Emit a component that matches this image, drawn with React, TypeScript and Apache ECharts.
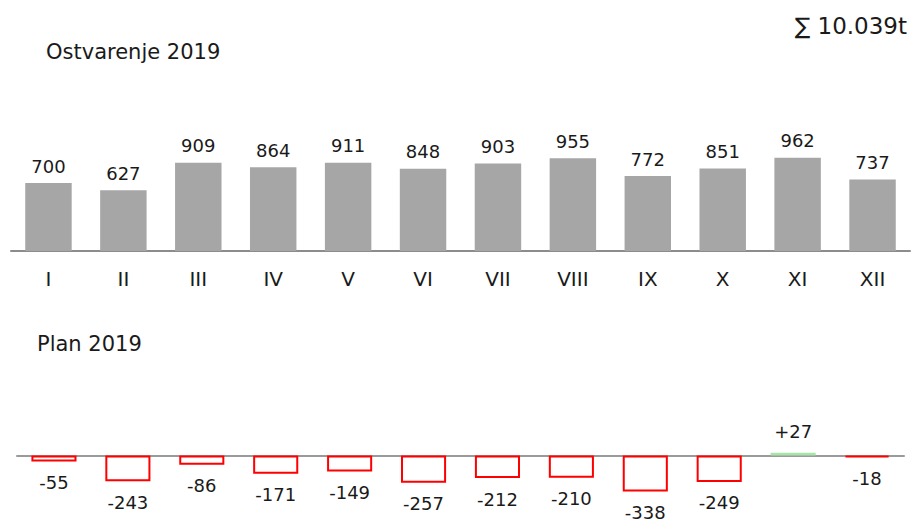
import React, { useEffect, useRef } from "react";
import * as echarts from "echarts";

const months = ["I", "II", "III", "IV", "V", "VI", "VII", "VIII", "IX", "X", "XI", "XII"];
const actual2019 = [700, 627, 909, 864, 911, 848, 903, 955, 772, 851, 962, 737];
const varianceVsPlan = [-55, -243, -86, -171, -149, -257, -212, -210, -338, -249, 27, -18];
const topTitle = "Ostvarenje 2019";
const bottomTitle = "Plan 2019";

const FONT = "'DejaVu Sans', Verdana, sans-serif";

function formatThousands(v: number): string {
  const s = String(v);
  const intPart = s.slice(0, s.length - 3);
  const rest = s.slice(s.length - 3);
  return intPart ? intPart + "." + rest : rest;
}

export default function App() {
  const ref = useRef<HTMLDivElement>(null);
  useEffect(() => {
    if (!ref.current) return;
    const chart = echarts.init(ref.current, null, { renderer: "svg" });
    const total = actual2019.reduce((a, b) => a + b, 0);
    chart.setOption({
      animation: false,
      backgroundColor: "#ffffff",
      textStyle: { fontFamily: FONT },
      graphic: [
        {
          type: "text",
          x: 46,
          y: 52,
          style: { text: topTitle, font: `21px ${FONT}`, fill: "#1a1a1a", textVerticalAlign: "middle" },
        },
        {
          type: "text",
          x: 907,
          y: 26,
          style: {
            text: "∑ " + formatThousands(total) + "t",
            font: `23px ${FONT}`,
            fill: "#1a1a1a",
            textAlign: "right",
            textVerticalAlign: "middle",
          },
        },
        {
          type: "text",
          x: 37,
          y: 344,
          style: { text: bottomTitle, font: `21px ${FONT}`, fill: "#1a1a1a", textVerticalAlign: "middle" },
        },
      ],
      grid: [
        { left: 11, right: 2, top: 154, bottom: 272 },
        { left: 17, right: 8, top: 445, bottom: 25 },
      ],
      xAxis: [
        {
          type: "category",
          gridIndex: 0,
          data: months,
          axisLine: { lineStyle: { color: "#8c8c8c", width: 2 } },
          axisTick: { show: false },
          axisLabel: { color: "#1a1a1a", fontSize: 20, fontFamily: FONT, margin: 18 },
        },
        {
          type: "category",
          gridIndex: 1,
          data: months,
          axisLine: { onZero: true, lineStyle: { color: "#9a9a9a", width: 2 } },
          axisTick: { show: false },
          axisLabel: { show: false },
        },
      ],
      yAxis: [
        { type: "value", gridIndex: 0, min: 0, max: 1000, show: false },
        { type: "value", gridIndex: 1, min: -400, max: 100, show: false },
      ],
      series: [
        {
          type: "bar",
          xAxisIndex: 0,
          yAxisIndex: 0,
          data: actual2019,
          barWidth: "62%",
          itemStyle: { color: "#a6a6a6" },
          label: {
            show: true,
            position: "top",
            distance: 8,
            color: "#1a1a1a",
            fontSize: 18,
            fontFamily: FONT,
          },
        },
        {
          type: "bar",
          xAxisIndex: 1,
          yAxisIndex: 1,
          barWidth: "61%",
          data: varianceVsPlan.map((v) => ({
            value: v,
            itemStyle: {
              color: "#ffffff",
              borderColor: v >= 0 ? "#a9e5a9" : "#ff0000",
              borderWidth: 2,
            },
            label: {
              position: v >= 0 ? "top" : "bottom",
              distance: v >= 0 ? 12 : 12,
            },
          })),
          label: {
            show: true,
            color: "#1a1a1a",
            fontSize: 18,
            fontFamily: FONT,
            formatter: (p: any) => (p.value > 0 ? "+" + p.value : String(p.value)),
          },
        },
      ],
    });
    return () => chart.dispose();
  }, []);
  return (
    <div
      ref={ref}
      style={{ position: "fixed", left: 0, top: 0, width: 912, height: 523 }}
    />
  );
}
